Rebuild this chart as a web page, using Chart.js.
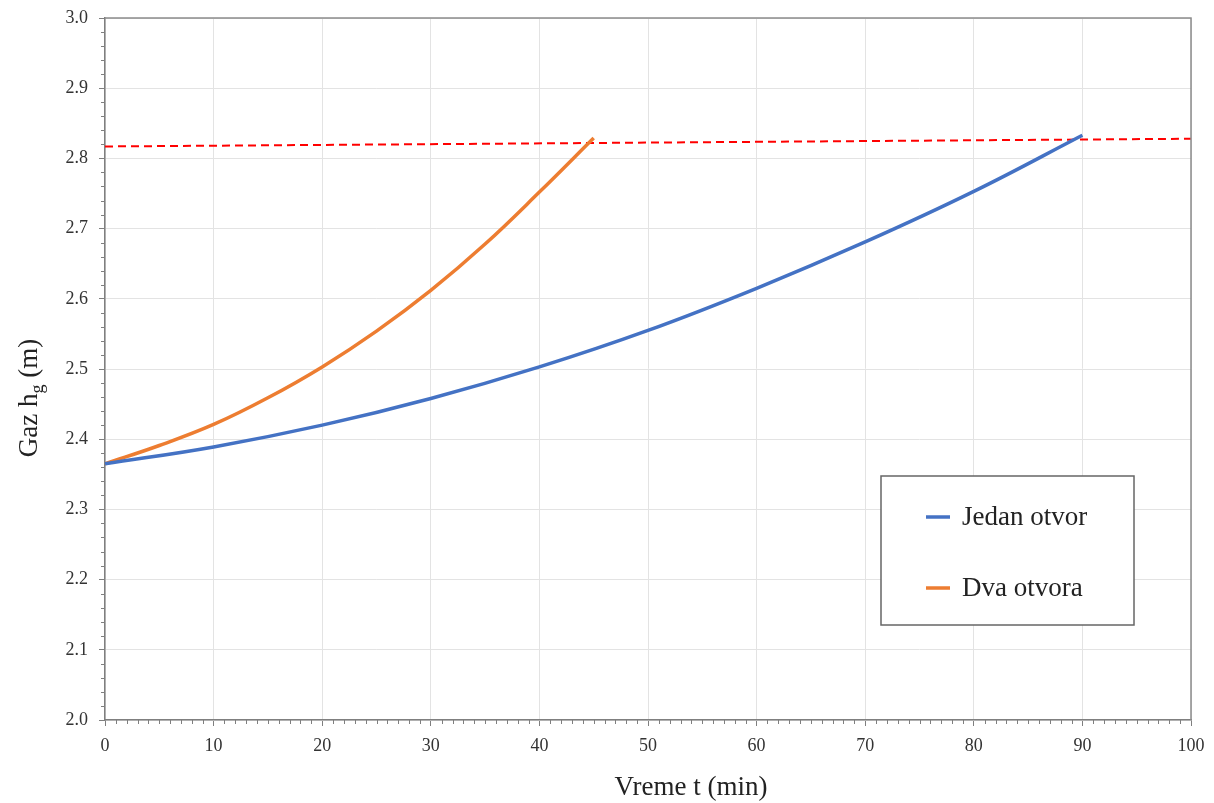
<!DOCTYPE html>
<html>
<head>
<meta charset="utf-8">
<script src="https://cdn.jsdelivr.net/npm/chart.js@4"></script>
<style>
  html, body { margin: 0; padding: 0; background: #fff; }
  #wrap { width: 1214px; height: 803px; }
</style>
</head>
<body>
<div id="wrap"><canvas id="gaz-chart" width="1214" height="803"></canvas></div>
<script>
// Jedan otvor
const jedanT = [0, 10, 20, 30, 40, 50, 60, 70, 80, 90]
const jedanH = [2.365, 2.389, 2.420, 2.458, 2.503, 2.555, 2.615, 2.681, 2.753, 2.833]
// Dva otvora
const dvaT = [0, 5, 10, 15, 20, 25, 30, 35, 40, 45]
const dvaH = [2.365, 2.391, 2.421, 2.459, 2.503, 2.554, 2.612, 2.678, 2.752, 2.829]
// granicni gaz (crvena isprekidana)
const granicaT = [0, 100]
const granicaH = [2.817, 2.828]

const xTicks = [0, 10, 20, 30, 40, 50, 60, 70, 80, 90, 100]
const yTicks = [2.0, 2.1, 2.2, 2.3, 2.4, 2.5, 2.6, 2.7, 2.8, 2.9, 3.0]

const serif = "'Liberation Serif', 'DejaVu Serif', serif"
const toPoints = (xs, ys) => xs.map((x, i) => ({ x: x, y: ys[i] }))

// minor ticks, plot box, legend and axis titles
const extras = {
	id: 'extras',
	afterDraw(chart) {
		const ctx = chart.ctx
		const a = chart.chartArea
		const sx = chart.scales.x
		const sy = chart.scales.y
		ctx.save()
		ctx.strokeStyle = '#7f7f7f'
		ctx.lineWidth = 1
		// minor ticks x
		for (let v = 0; v <= 100; v++) {
			if (v % 10 === 0) continue
			const px = Math.round(sx.getPixelForValue(v)) + 0.5
			ctx.beginPath()
			ctx.moveTo(px, a.bottom)
			ctx.lineTo(px, a.bottom + 4)
			ctx.stroke()
		}
		// minor ticks y
		for (let k = 0; k <= 50; k++) {
			if (k % 5 === 0) continue
			const py = Math.round(sy.getPixelForValue(2 + k * 0.02)) + 0.5
			ctx.beginPath()
			ctx.moveTo(a.left - 4, py)
			ctx.lineTo(a.left, py)
			ctx.stroke()
		}
		// top and right border
		ctx.strokeStyle = '#8c8c8c'
		ctx.lineWidth = 1.5
		ctx.beginPath()
		ctx.moveTo(a.left, a.top)
		ctx.lineTo(a.right, a.top)
		ctx.lineTo(a.right, a.bottom)
		ctx.stroke()

		// legend box
		const lx = 881, ly = 476, lw = 253, lh = 149
		ctx.fillStyle = '#ffffff'
		ctx.fillRect(lx, ly, lw, lh)
		ctx.strokeStyle = '#666666'
		ctx.lineWidth = 1.5
		ctx.strokeRect(lx, ly, lw, lh)
		const items = chart.data.datasets.filter(d => d.label)
		ctx.font = '27px ' + serif
		ctx.textBaseline = 'middle'
		items.forEach((d, i) => {
			const cy = ly + 41 + i * 71
			ctx.strokeStyle = d.borderColor
			ctx.lineWidth = 3.5
			ctx.beginPath()
			ctx.moveTo(lx + 45, cy)
			ctx.lineTo(lx + 69, cy)
			ctx.stroke()
			ctx.fillStyle = '#222'
			ctx.fillText(d.label, lx + 81, cy + 1)
		})

		// x title
		ctx.font = '27px ' + serif
		ctx.fillStyle = '#222'
		ctx.textAlign = 'center'
		ctx.textBaseline = 'middle'
		ctx.fillText('Vreme t (min)', 691, 788)

		// y title with subscript
		ctx.textAlign = 'left'
		ctx.translate(28, 398)
		ctx.rotate(-Math.PI / 2)
		ctx.textBaseline = 'alphabetic'
		const big = '27px ' + serif
		const small = '18px ' + serif
		ctx.font = big
		const p1 = 'Gaz h', p3 = ' (m)'
		const w1 = ctx.measureText(p1).width
		const w3 = ctx.measureText(p3).width
		ctx.font = small
		const w2 = ctx.measureText('g').width
		const x0 = -(w1 + w2 + w3) / 2
		ctx.font = big
		ctx.fillText(p1, x0, 9)
		ctx.font = small
		ctx.fillText('g', x0 + w1, 15)
		ctx.font = big
		ctx.fillText(p3, x0 + w1 + w2, 9)
		ctx.restore()
	}
}

new Chart('gaz-chart', {
	type: 'scatter',
	data: {
		datasets: [
			{
				label: 'Jedan otvor',
				data: toPoints(jedanT, jedanH),
				showLine: true,
				borderColor: '#4472C4',
				borderWidth: 3.5,
				pointRadius: 0,
				tension: 0.4
			},
			{
				label: 'Dva otvora',
				data: toPoints(dvaT, dvaH),
				showLine: true,
				borderColor: '#ED7D31',
				borderWidth: 3.5,
				pointRadius: 0,
				tension: 0.4
			},
			{
				label: '',
				data: toPoints(granicaT, granicaH),
				showLine: true,
				borderColor: '#FF0000',
				borderWidth: 2,
				borderDash: [8, 5],
				pointRadius: 0
			}
		]
	},
	options: {
		responsive: false,
		animation: false,
		layout: { padding: { top: 18, right: 23, left: 0, bottom: 0 } },
		plugins: {
			legend: { display: false },
			tooltip: { enabled: false }
		},
		scales: {
			x: {
				type: 'linear',
				min: 0,
				max: 100,
				afterFit: s => {
					s.height = 83
					s.paddingLeft = 0
					s.paddingRight = 0
				},
				afterBuildTicks: s => { s.ticks = xTicks.map(v => ({ value: v })) },
				ticks: { color: '#333', font: { family: serif, size: 18 }, padding: 9, maxRotation: 0 },
				grid: { color: '#e3e3e3', lineWidth: 1, tickLength: 6, tickColor: '#7f7f7f' },
				border: { color: '#7f7f7f', width: 1.5 }
			},
			y: {
				min: 2.0,
				max: 3.0,
				afterFit: s => {
					s.width = 105
					s.paddingTop = 0
					s.paddingBottom = 0
				},
				afterBuildTicks: s => { s.ticks = yTicks.map(v => ({ value: v })) },
				ticks: {
					color: '#333',
					font: { family: serif, size: 18 },
					padding: 11,
					callback: v => v.toFixed(1)
				},
				grid: { color: '#e3e3e3', lineWidth: 1, tickLength: 6, tickColor: '#7f7f7f' },
				border: { color: '#7f7f7f', width: 1.5 }
			}
		}
	},
	plugins: [extras]
})
</script>
</body>
</html>
